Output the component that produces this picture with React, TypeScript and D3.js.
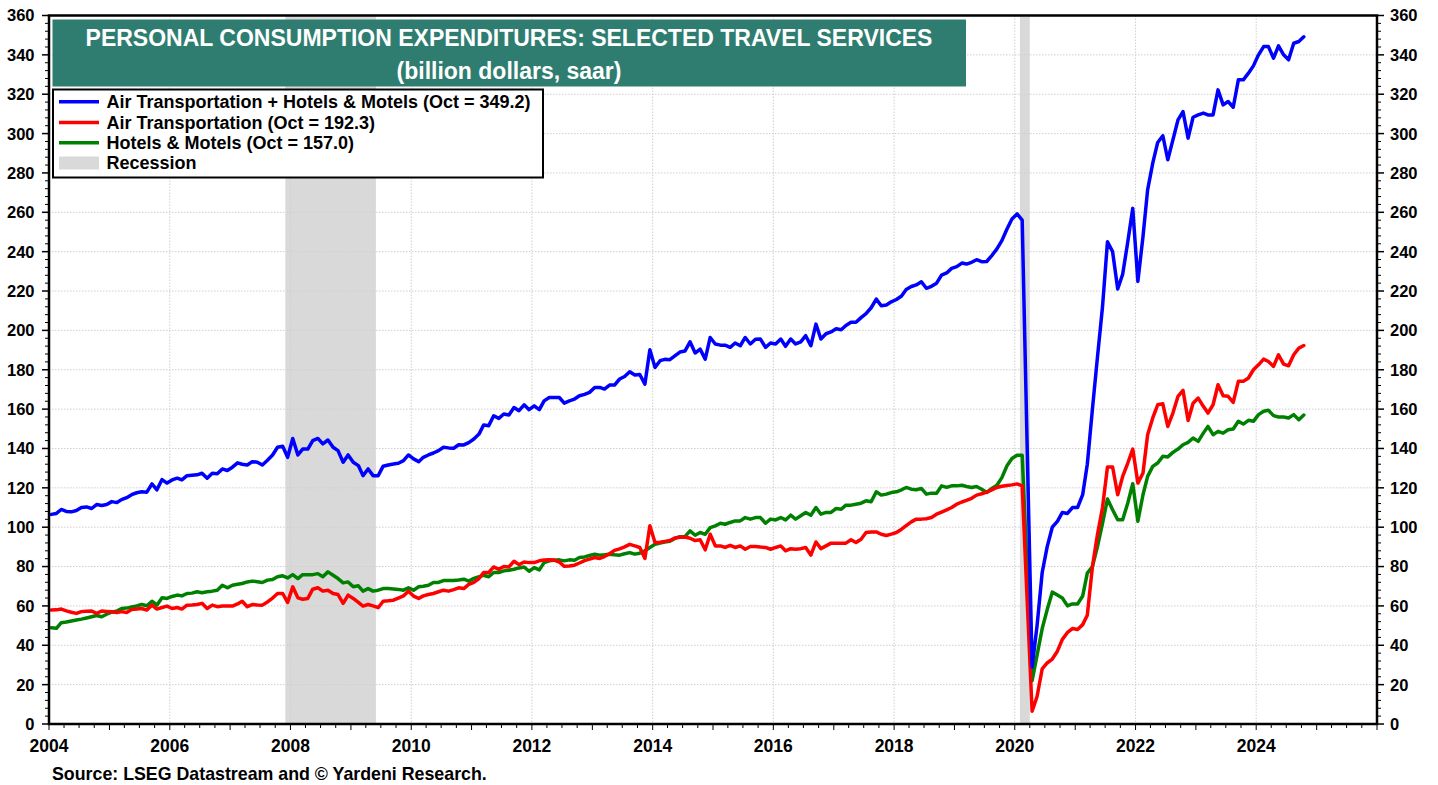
import React from "react";
import * as d3 from "d3";

// Monthly data, Jan 2004 .. Oct 2024 (billion dollars, saar)
const airHotels: number[] = [
  106.5, 107, 109, 108, 107.8, 108.5, 110, 110.3, 109.5, 111.5, 111, 111.5, // 2004
  113, 112.5, 114, 115, 116.5, 117.5, 118, 117.8, 122, 119, 124.2, 122.4, // 2005
  124, 124.9, 124, 126.2, 126.4, 126.6, 127.4, 124.9, 127.4, 127.1, 129.6, 128.8, // 2006
  130.5, 132.7, 132, 131.6, 133.3, 133, 131.6, 134, 136.7, 140.6, 141.1, 135.5, // 2007
  145.1, 136.7, 139.7, 139.7, 144, 145.1, 142.3, 144.3, 140.6, 138.9, 133, 136.7, // 2008
  133, 131.3, 126.2, 129.6, 126.2, 126.2, 131, 131.6, 132.1, 132.5, 133.8, 136.7, // 2009
  134.7, 133.3, 135.5, 136.7, 137.7, 138.9, 140.6, 140.3, 140.1, 141.9, 141.8, 143, // 2010
  144.8, 147.3, 151.9, 151.6, 156.6, 155.3, 157.5, 157, 160.8, 159.2, 162.2, 159.7, // 2011
  161.7, 159.7, 164.2, 165.9, 165.9, 165.9, 163, 164.2, 165.1, 166.8, 167.5, 168.5, // 2012
  171, 171, 170.2, 172.2, 172.2, 175.3, 176.6, 179, 177.3, 177.6, 172.7, 190.2, // 2013
  181.2, 184.6, 185.3, 185.1, 187, 189, 189.5, 194.2, 188.5, 190.5, 185.4, 196.4, // 2014
  193.1, 192.5, 192.5, 191.4, 193.6, 192.2, 196.4, 193.1, 195.5, 195.6, 191.4, 193.6, // 2015
  193.1, 195.6, 191.9, 195.6, 193.1, 194.2, 197.3, 192.2, 203.2, 195.6, 198.3, 199.2, // 2016
  200.8, 200.3, 202.5, 204.1, 204.1, 206.5, 208.5, 211.5, 215.9, 212.5, 212.9, 214.5, // 2017
  215.7, 217.5, 220.8, 222.3, 223.1, 224.7, 221.4, 222.4, 224, 228.1, 229.2, 231.5, // 2018
  232.4, 234.2, 233.7, 234.6, 235.9, 234.9, 235, 238, 241.4, 245.6, 251.5, 256.6, // 2019
  259.2, 256, 145, 29, 50, 77, 90, 100, 103, 107.5, 107, 110, // 2020
  110, 116.5, 132, 160, 186, 212, 245, 240, 221, 228.5, 245, 262, // 2021
  224.9, 247.7, 271.4, 285, 295.5, 298.9, 286.7, 296.8, 307, 311.2, 297.7, 308.3, // 2022
  309.5, 310.4, 309.5, 309.5, 322.2, 314.6, 316.3, 313.4, 327.3, 327.3, 330.7, 334.4, // 2023
  340, 344.2, 344.2, 338.3, 344.6, 340, 337.5, 345.9, 346.8, 349.2, // 2024
];

const airTransport: number[] = [
  57.9, 58, 58.4, 57.5, 56.8, 56.2, 57.1, 57.3, 57.4, 56.2, 57.4, 57.2, // 2004
  57, 56.7, 57.1, 56.7, 58.2, 58.4, 58.7, 57.9, 60.4, 58.4, 59.2, 59.9, // 2005
  58.7, 59.2, 58.4, 60.4, 60.5, 60.7, 61.3, 58.7, 60.4, 59.6, 59.9, 59.9, // 2006
  59.9, 61, 62.4, 59.6, 60.7, 60.5, 60.4, 62, 64, 66.3, 66.3, 61.8, // 2007
  69.7, 64.1, 63.4, 63.8, 68.5, 69.2, 67.5, 68, 66.3, 65.8, 61.3, 65.5, // 2008
  63.8, 61.8, 59.9, 60.7, 60, 59.1, 62.4, 62.6, 62.9, 64, 65.1, 67.5, // 2009
  65, 63.8, 65.1, 65.8, 66.3, 67.2, 68, 67.5, 68.3, 69.2, 68.8, 70.9, // 2010
  72, 73.9, 77, 77, 79.8, 78.6, 80, 79.8, 82.7, 81, 82.3, 82, // 2011
  82, 82.9, 83.3, 83.4, 83.3, 82.3, 80.1, 80.3, 80.7, 81.8, 83, 83.8, // 2012
  84.6, 84.1, 85.1, 86.5, 88.2, 89, 90, 91.3, 90.5, 89.7, 84.1, 100.7, // 2013
  92.2, 92.4, 92.8, 93.2, 94.5, 94.9, 95, 94.4, 93.2, 93.6, 88.5, 96.4, // 2014
  90.5, 90.5, 89.7, 90.8, 89.7, 90.5, 88.8, 90.2, 90.2, 89.9, 89.7, 88.8, // 2015
  89.7, 90.5, 88, 89.1, 88.8, 89.1, 89.7, 85.8, 92.5, 89.1, 90.5, 91.9, // 2016
  91.9, 91.9, 91.9, 93.6, 92.2, 93.9, 97.3, 97.6, 97.6, 96.4, 95.8, 96.5, // 2017
  97.3, 99, 100.8, 102.7, 104.1, 104.1, 104.3, 104.9, 106.6, 107.7, 108.8, 110, // 2018
  111.7, 112.8, 113.6, 114.7, 116.3, 117, 117.8, 119, 120.2, 120.8, 121.2, 121.5, // 2019
  122, 121, 65, 6.5, 14, 28, 31, 33, 37, 43, 46.5, 48.5, // 2020
  48, 50.5, 55.3, 80, 96, 110, 130.6, 130.6, 116.5, 125.8, 132.6, 139.7, // 2021
  122.4, 127.5, 147, 155.5, 162.2, 162.7, 151.2, 158, 166.5, 169.5, 154.2, 163, // 2022
  165.6, 161.4, 158, 162.2, 172.4, 166.8, 166.5, 163.4, 174.1, 174.1, 175.8, 180, // 2023
  182.5, 185.4, 184.2, 181.7, 187.6, 182.9, 182, 187.6, 191, 192.3, // 2024
];

const hotelsMotels: number[] = [
  48.9, 48.6, 51.5, 51.8, 52.3, 52.8, 53.3, 53.9, 54.5, 55.1, 54.5, 55.8, // 2004
  56.8, 57.4, 58.7, 58.9, 59.5, 60, 60.7, 60.1, 62.4, 60.4, 64.1, 63.8, // 2005
  64.8, 65.5, 65.1, 66.3, 66.5, 67.2, 66.7, 67.2, 67.5, 68, 70.5, 69.2, // 2006
  70.5, 71, 71.4, 72.2, 72.6, 72.3, 71.9, 73.1, 73.4, 74.8, 75.3, 74.2, // 2007
  75.9, 73.9, 75.9, 75.9, 75.9, 76.4, 74.8, 77.3, 75.6, 73.9, 71.7, 72.2, // 2008
  69.7, 70.2, 67.5, 68.8, 67.5, 68, 68.8, 68.8, 68.6, 68.4, 68, 69.2, // 2009
  68, 69.7, 70, 70.5, 71.9, 71.9, 72.9, 72.9, 72.9, 73.2, 73.6, 72.6, // 2010
  74, 74.8, 75.6, 74.8, 77, 77, 77.8, 78.1, 78.6, 79.3, 79.8, 77.6, // 2011
  79.5, 78.3, 82, 82.9, 83.2, 83.4, 82.9, 83.4, 83.2, 84.6, 84.9, 85.6, // 2012
  86.3, 85.8, 86, 86.3, 86, 85.8, 86.5, 87.1, 86.3, 86.8, 88, 89.7, // 2013
  91.3, 92, 92.5, 92.8, 94.3, 95.2, 95.2, 98.1, 95.9, 97.3, 96.4, 99.8, // 2014
  100.7, 102, 101.5, 102.4, 103.2, 103.2, 104.9, 104.1, 104.9, 104.9, 102, 104.1, // 2015
  103.7, 104.9, 103.7, 106.1, 104.1, 105.8, 107.5, 106.1, 110, 106.6, 107.5, 107.5, // 2016
  109.5, 109.1, 111.2, 111.2, 111.7, 112.2, 113.4, 112.9, 118, 116.3, 116.8, 117.6, // 2017
  118, 119, 120.2, 119.3, 119, 119.7, 116.8, 117.3, 117.3, 121, 120.2, 121, // 2018
  121, 121.3, 120.7, 120.2, 120.7, 119.3, 117.6, 119.7, 121.3, 125.2, 131.2, 134.9, // 2019
  136.6, 136.5, 80, 22, 35, 48.5, 58, 67, 65.5, 64, 60, 61, // 2020
  61, 65, 76.7, 80, 90, 102, 114.3, 108.9, 103.8, 103.8, 112.3, 122.1, // 2021
  103, 116.5, 125.8, 130.9, 132.6, 136, 135.7, 138, 139.7, 141.9, 143.1, 145.3, // 2022
  143.6, 147.8, 151.2, 147, 148.7, 147.8, 149.5, 149.9, 153.8, 152.4, 154.3, 153.8, // 2023
  157.2, 158.9, 159.4, 156.7, 156, 156, 155.5, 157.2, 154.6, 157, // 2024
];

const seriesNames = [
  "Air Transportation + Hotels & Motels (Oct = 349.2)",
  "Air Transportation (Oct = 192.3)",
  "Hotels & Motels (Oct = 157.0)",
];
const seriesColors = ["#0000ff", "#ff0000", "#008000"];

// Recessions [start year, start month index, end year, end month index]
const recessions: [number, number, number, number][] = [
  [2007, 11, 2009, 5],
  [2020, 1, 2020, 3],
];

const yTicks = [0, 20, 40, 60, 80, 100, 120, 140, 160, 180, 200, 220, 240, 260, 280, 300, 320, 340, 360];
const xTickYears = [2004, 2006, 2008, 2010, 2012, 2014, 2016, 2018, 2020, 2022, 2024];

const titleLine1 = "PERSONAL CONSUMPTION EXPENDITURES: SELECTED TRAVEL SERVICES";
const titleLine2 = "(billion dollars, saar)";
const sourceText = "Source: LSEG Datastream and \u00a9 Yardeni Research.";

const FONT = "'Liberation Sans', Arial, Helvetica, sans-serif";

export default function App() {
  const W = 1438, H = 785;
  const left = 49, right = 1377, top = 15.5, bottom = 724;

  const x = d3.scaleTime()
    .domain([new Date(2004, 0, 1), new Date(2026, 0, 1)])
    .range([left, right]);
  const y = d3.scaleLinear().domain([0, 360]).range([bottom, top]);

  const dates = airHotels.map((_, i) => new Date(2004, i, 15));
  const line = d3.line<number>()
    .x((_, i) => x(dates[i]))
    .y((v) => y(v));

  const series = [airHotels, airTransport, hotelsMotels];

  const minorY = d3.range(0, 361, 4).filter((v) => v % 20 !== 0);
  const quarters = d3.timeMonth.every(3)!.range(new Date(2004, 0, 1), new Date(2026, 0, 2));

  const legendRowsY = [101.7, 122.5, 142.7];

  return (
    <svg
      width={W}
      height={H}
      style={{ position: "absolute", left: 0, top: 0, background: "#fff" }}
      fontFamily={FONT}
    >
      <rect x={0} y={0} width={W} height={H} fill="#fff" />
      {/* recession bands */}
      {recessions.map(([y0, m0, y1, m1], i) => (
        <rect
          key={"r" + i}
          x={x(new Date(y0, m0, 1))}
          y={top}
          width={x(new Date(y1, m1, 1)) - x(new Date(y0, m0, 1))}
          height={bottom - top}
          fill="#d9d9d9"
        />
      ))}
      {/* grid */}
      {yTicks.filter((v) => v > 0 && v < 360).map((v) => (
        <line key={"gy" + v} x1={left} x2={right} y1={y(v)} y2={y(v)}
          stroke="#cfcfcf" strokeWidth={1} strokeDasharray="1.5,1.5" />
      ))}
      {xTickYears.filter((yr) => yr > 2004).map((yr) => (
        <line key={"gx" + yr} x1={x(new Date(yr, 0, 1))} x2={x(new Date(yr, 0, 1))} y1={top} y2={bottom}
          stroke="#cfcfcf" strokeWidth={1} strokeDasharray="1.5,1.5" />
      ))}
      {/* title box */}
      <rect x={52.5} y={19.5} width={913.5} height={67} fill="#2e7d70" />
      <text x={509} y={45.5} textAnchor="middle" fill="#fff" fontWeight="bold" fontSize={23}>
        {titleLine1}
      </text>
      <text x={509} y={78.5} textAnchor="middle" fill="#fff" fontWeight="bold" fontSize={23}>
        {titleLine2}
      </text>
      {/* legend */}
      <rect x={53} y={89.5} width={490} height={88} fill="#fff" stroke="#000" strokeWidth={2} />
      {seriesNames.map((name, i) => (
        <g key={"lg" + i}>
          <line x1={59} x2={99} y1={legendRowsY[i]} y2={legendRowsY[i]} stroke={seriesColors[i]} strokeWidth={3.5} />
          <text x={106.5} y={legendRowsY[i]} dy="0.36em" fontWeight="bold" fontSize={18}>{name}</text>
        </g>
      ))}
      <rect x={59} y={156.5} width={40} height={13} fill="#d9d9d9" />
      <text x={106.5} y={163} dy="0.36em" fontWeight="bold" fontSize={18}>Recession</text>
      {/* series lines */}
      <g clipPath="url(#plotClip)">
        {[2, 1, 0].map((i) => (
          <path key={"s" + i} d={line(series[i]) || ""} fill="none" stroke={seriesColors[i]}
            strokeWidth={3.5} strokeLinejoin="round" strokeLinecap="round" />
        ))}
      </g>
      <defs>
        <clipPath id="plotClip">
          <rect x={left} y={top} width={right - left} height={bottom - top} />
        </clipPath>
      </defs>
      {/* frame */}
      <rect x={left} y={top} width={right - left} height={bottom - top} fill="none" stroke="#000" strokeWidth={2.5} />
      {/* y axis ticks and labels */}
      {yTicks.map((v) => (
        <g key={"yt" + v}>
          <line x1={left - 7} x2={left} y1={y(v)} y2={y(v)} stroke="#000" strokeWidth={1.5} />
          <line x1={right} x2={right + 7} y1={y(v)} y2={y(v)} stroke="#000" strokeWidth={1.5} />
          <text x={34.5} y={y(v)} dy="0.36em" textAnchor="end" fontWeight="bold" fontSize={16.5}>{v}</text>
          <text x={1390} y={y(v)} dy="0.36em" textAnchor="start" fontWeight="bold" fontSize={16.5}>{v}</text>
        </g>
      ))}
      {minorY.map((v) => (
        <g key={"ym" + v}>
          <line x1={left - 4} x2={left} y1={y(v)} y2={y(v)} stroke="#000" strokeWidth={1} />
          <line x1={right} x2={right + 4} y1={y(v)} y2={y(v)} stroke="#000" strokeWidth={1} />
        </g>
      ))}
      {/* x axis ticks */}
      {quarters.map((d, i) => (
        <line key={"xq" + i} x1={x(d)} x2={x(d)} y1={bottom} y2={bottom + (d.getMonth() === 0 ? 6 : 4)}
          stroke="#000" strokeWidth={1} />
      ))}
      {xTickYears.map((yr) => (
        <text key={"xl" + yr} x={x(new Date(yr, 0, 1))} y={752} textAnchor="middle" fontWeight="bold" fontSize={17.5}>
          {yr}
        </text>
      ))}
      <text x={52} y={780} fontWeight="bold" fontSize={17.8}>{sourceText}</text>
    </svg>
  );
}
